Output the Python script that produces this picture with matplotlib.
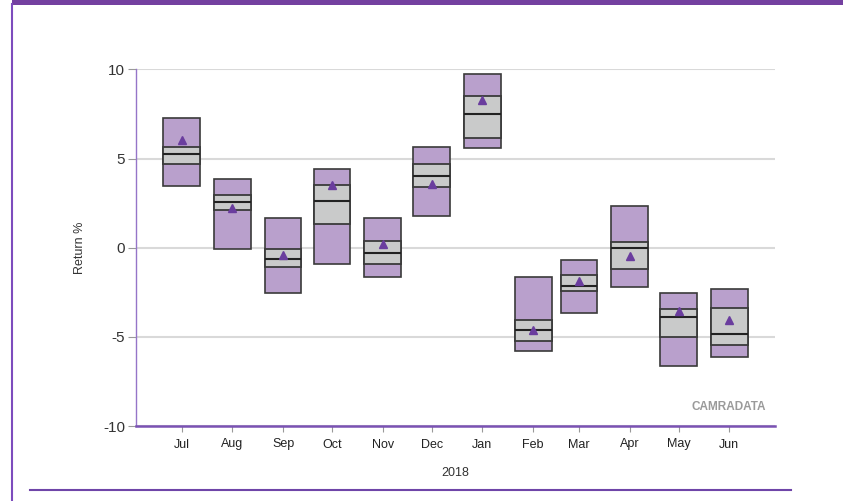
import datetime as dt

import numpy as np
import matplotlib
matplotlib.use("Agg")
import matplotlib.pyplot as plt
import matplotlib.dates as mdates
from matplotlib.lines import Line2D
from matplotlib.patches import Rectangle

# month labels and the first day of each month (date axis)
months = ['Jul', 'Aug', 'Sep', 'Oct', 'Nov', 'Dec',
          'Jan', 'Feb', 'Mar', 'Apr', 'May', 'Jun']
month_starts = [dt.date(2017, m, 1) for m in range(7, 13)] + \
               [dt.date(2018, m, 1) for m in range(1, 7)]

# return ranges (%)
high = [7.29, 3.87, 1.68, 4.40, 1.65, 5.66, 9.76, -1.63, -0.67, 2.36, -2.52, -2.32]
upper_q = [5.66, 2.97, -0.07, 3.52, 0.38, 4.68, 8.51, -4.06, -1.55, 0.30, -3.42, -3.37]
median = [5.27, 2.55, -0.62, 2.64, -0.28, 4.00, 7.48, -4.63, -2.13, -0.02, -3.90, -4.84]
lower_q = [4.68, 2.10, -1.10, 1.31, -0.93, 3.40, 6.17, -5.23, -2.45, -1.18, -5.01, -5.47]
low = [3.46, -0.07, -2.52, -0.91, -1.63, 1.80, 5.59, -5.79, -3.66, -2.22, -6.65, -6.13]
mean = [6.02, 2.24, -0.39, 3.50, 0.19, 3.59, 8.28, -4.60, -1.85, -0.45, -3.53, -4.07]

plt.rcParams['font.family'] = ['Liberation Sans Narrow', 'Liberation Sans', 'DejaVu Sans']

PURPLE = '#b9a0cc'
GREY = '#c9caca'
EDGE = '#3a3a3a'
FRAME = '#7440a0'

x = mdates.date2num(month_starts)
high, upper_q, median = np.array(high), np.array(upper_q), np.array(median)
lower_q, low, mean = np.array(lower_q), np.array(low), np.array(mean)
w = 22.5  # box width in days

fig = plt.figure(figsize=(8.43, 5.01), dpi=100)
ax = fig.add_axes([136 / 843, 1 - 426 / 501, 639 / 843, 356.6 / 501])

ax.bar(x, high - low, bottom=low, width=w, color=PURPLE,
       edgecolor=EDGE, linewidth=1.2, zorder=2)
ax.bar(x, upper_q - lower_q, bottom=lower_q, width=w, color=GREY,
       edgecolor=EDGE, linewidth=1.3, zorder=3)
ax.hlines(median, x - w / 2, x + w / 2, color='#222222', linewidth=1.5, zorder=4)
ax.plot(x, mean, linestyle='none', marker='^', markersize=5.5,
        color='#6a3d9e', zorder=5)

ax.set_xlim(mdates.date2num(dt.date(2017, 6, 3)), mdates.date2num(dt.date(2018, 6, 29)))
ax.set_ylim(-10, 10)
ax.set_yticks([-10, -5, 0, 5, 10])
ax.set_yticklabels(['-10', '-5', '0', '5', '10'], fontsize=11, color='#333333')
ax.set_xticks(x)
ax.set_xticklabels(months, fontsize=9, color='#222222')

ax.grid(axis='y', color='#d9d9d9', linewidth=1.5)
ax.set_axisbelow(True)
ax.tick_params(axis='y', length=6, color='#999999', pad=2)
ax.tick_params(axis='x', length=4, color='#999999', pad=5)

for side in ['top', 'right']:
    ax.spines[side].set_visible(False)
ax.spines['left'].set_color('#9575c8')
ax.spines['left'].set_linewidth(1.0)
ax.spines['bottom'].set_color('#7a52b3')
ax.spines['bottom'].set_linewidth(1.8)

ax.set_ylabel('Return %', fontsize=9, color='#333333', labelpad=12)
ax.set_xlabel('2018', fontsize=9, color='#333333', labelpad=12)

ax.text(0.986, 0.053, 'CAMRADATA', transform=ax.transAxes, ha='right',
        va='center', fontsize=8.5, fontweight='bold', color='#9a9a9a')

# page frame
fig.add_artist(Rectangle((12 / 843, 1 - 5 / 501), 1, 5 / 501,
                         transform=fig.transFigure, color=FRAME, linewidth=0))
fig.add_artist(Line2D([12.3 / 843, 12.3 / 843], [0, 1 - 4 / 501],
                      transform=fig.transFigure, color='#7d4cbd', linewidth=1.5))
fig.add_artist(Line2D([30 / 843, 791 / 843], [1 - 490 / 501, 1 - 490 / 501],
                      transform=fig.transFigure, color='#6f45a8', linewidth=1.5))

fig.savefig('out.png', dpi=100)
